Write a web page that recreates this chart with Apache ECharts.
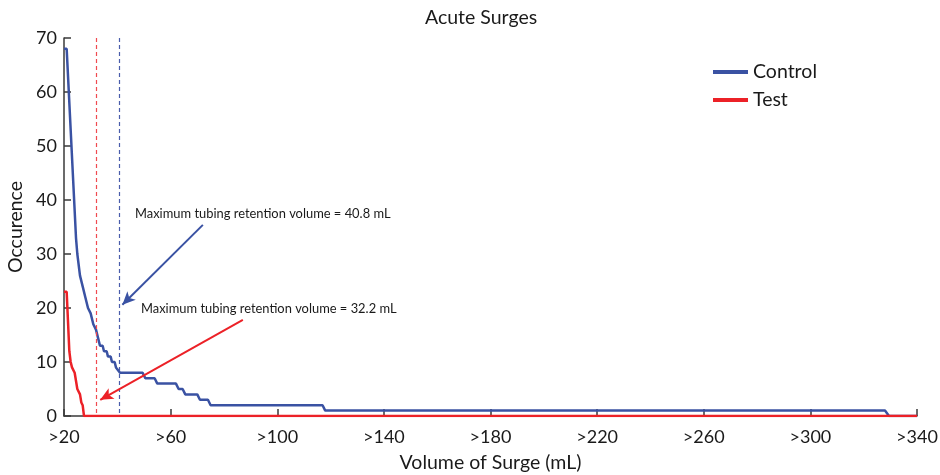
<!DOCTYPE html>
<html><head><meta charset="utf-8">
<script src="https://cdn.jsdelivr.net/npm/echarts@6/dist/echarts.min.js"></script>
<style>html,body{margin:0;padding:0;background:#fff}#c{width:940px;height:475px}</style>
</head><body><div id="c"></div>
<script>
// Control series: volume threshold (mL) and occurrence
const controlX = [20, 21, 24.5, 25, 26, 27, 28, 29, 30, 31, 32, 33, 33.5, 34.5, 35, 36, 36.5, 37.5, 38, 39, 39.5, 41, 49.5, 50.5, 54, 55, 62, 63, 64.5, 65.5, 70, 71, 74, 75, 117, 118, 328, 329.5, 340];
const controlY = [68, 68, 33, 30, 26, 24, 22, 20, 19, 17, 16, 14, 13, 13, 12, 12, 11, 11, 10, 10, 9, 8, 8, 7, 7, 6, 6, 5, 5, 4, 4, 3, 3, 2, 2, 1, 1, 0, 0];
// Test series
const testX = [20, 21, 22, 22.5, 23, 24, 25, 26, 26.5, 27, 27.5, 340];
const testY = [23, 23, 12, 10, 9, 8, 5, 4, 2.5, 2, 0, 0];
const xTickValues = [20, 60, 100, 140, 180, 220, 260, 300, 340];
const retentionControl = 40.8;
const retentionTest = 32.2;

const BLUE = '#3A52A3';
const BLUE_DASH = '#4A5DAB';
const RED = '#EC2127';
const RED_DASH = '#F04A50';
const FONT = 'Lato';

function pairs(xs, ys) { return xs.map((x, i) => [x, ys[i]]); }

const chart = echarts.init(document.getElementById('c'), null, {renderer: 'canvas'});
chart.setOption({
  animation: false,
  backgroundColor: '#fff',
  textStyle: {fontFamily: FONT},
  title: {
    text: 'Acute Surges', left: 420, top: 3,
    textStyle: {fontFamily: FONT, fontSize: 19.5, fontWeight: 'normal', color: '#1a1a1a'}
  },
  legend: {
    left: 713, top: 62, orient: 'vertical', padding: 0,
    icon: 'rect', itemWidth: 35, itemHeight: 4, itemGap: 8,
    textStyle: {fontFamily: FONT, fontSize: 19.5, color: '#1a1a1a'},
    data: ['Control', 'Test']
  },
  grid: {left: 64, right: 23, top: 38, bottom: 59, containLabel: false, outerBoundsMode: 'none'},
  xAxis: {
    type: 'value', min: 20, max: 340,
    name: 'Volume of Surge (mL)', nameLocation: 'middle', nameGap: 37,
    nameTextStyle: {fontFamily: FONT, fontSize: 19.5, color: '#1a1a1a'},
    axisLine: {show: true, lineStyle: {color: '#3a3a3a', width: 1.5}},
    axisTick: {show: true, inside: true, length: 7, customValues: xTickValues, lineStyle: {color: '#3a3a3a', width: 1.5}},
    axisLabel: {customValues: xTickValues, formatter: v => '>' + v, fontFamily: FONT, fontSize: 18, color: '#1a1a1a', margin: 12},
    splitLine: {show: false}
  },
  yAxis: {
    type: 'value', min: 0, max: 70, interval: 10,
    name: 'Occurence', nameLocation: 'middle', nameGap: 34, nameRotate: 90,
    nameTextStyle: {fontFamily: FONT, fontSize: 19.5, color: '#1a1a1a'},
    axisLine: {show: true, lineStyle: {color: '#3a3a3a', width: 1.5}},
    axisTick: {show: true, inside: true, length: 7, lineStyle: {color: '#3a3a3a', width: 1.5}},
    axisLabel: {fontFamily: FONT, fontSize: 18, color: '#1a1a1a', margin: 7},
    splitLine: {show: false}
  },
  series: [
    {
      name: 'Control', type: 'line', data: pairs(controlX, controlY),
      symbol: 'none', smooth: false, color: BLUE,
      lineStyle: {color: BLUE, width: 2.5}, z: 3,
      markLine: {
        silent: true, animation: false,
        label: {show: false},
        data: [
          [{coord: [retentionControl, 70], symbol: 'none', lineStyle: {color: BLUE_DASH, type: [4, 3], width: 1.2}},
           {coord: [retentionControl, 0], symbol: 'none'}],
          [{coord: [72.1, 35.4], symbol: 'none', lineStyle: {color: BLUE, type: 'solid', width: 2}},
           {coord: [41.9, 20.6], symbol: 'arrow', symbolSize: [9, 13]}]
        ]
      }
    },
    {
      name: 'Test', type: 'line', data: pairs(testX, testY),
      symbol: 'none', smooth: false, color: RED,
      lineStyle: {color: RED, width: 2.5}, z: 4,
      markLine: {
        silent: true, animation: false,
        label: {show: false},
        data: [
          [{coord: [retentionTest, 70], symbol: 'none', lineStyle: {color: RED_DASH, type: [4, 3], width: 1.2}},
           {coord: [retentionTest, 0], symbol: 'none'}],
          [{coord: [87.1, 17.8], symbol: 'none', lineStyle: {color: RED, type: 'solid', width: 2}},
           {coord: [33.6, 3.0], symbol: 'arrow', symbolSize: [9, 13]}]
        ]
      }
    }
  ],
  graphic: [
    {type: 'text', x: 135, y: 214, style: {text: 'Maximum tubing retention volume = ' + retentionControl + ' mL', font: '12.9px ' + FONT, fill: '#1a1a1a', verticalAlign: 'middle'}},
    {type: 'text', x: 141, y: 309, style: {text: 'Maximum tubing retention volume = ' + retentionTest + ' mL', font: '12.9px ' + FONT, fill: '#1a1a1a', verticalAlign: 'middle'}}
  ]
});
</script></body></html>
